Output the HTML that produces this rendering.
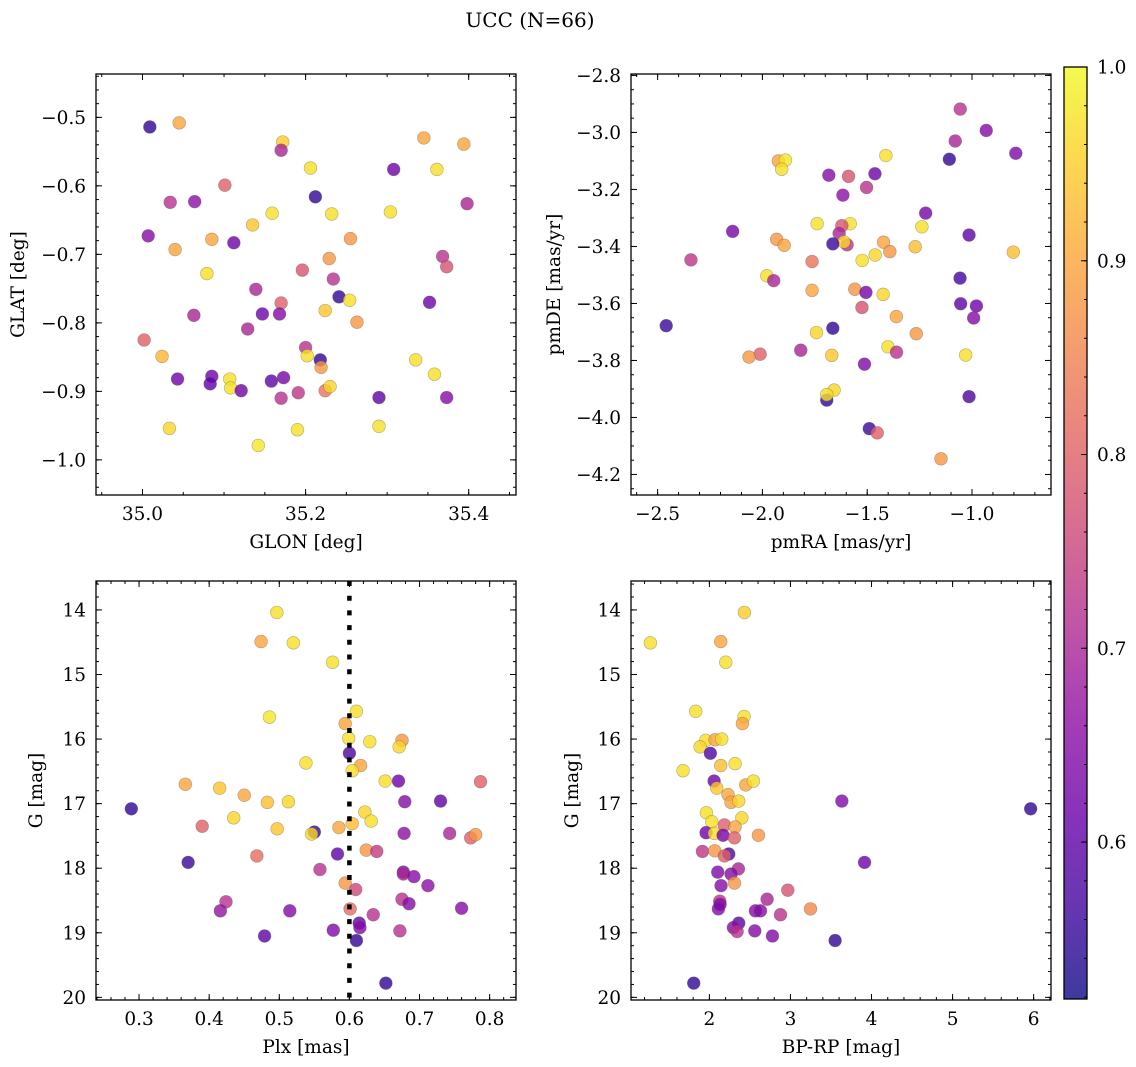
<!DOCTYPE html>
<html><head><meta charset="utf-8">
<style>
html,body{margin:0;padding:0;background:#fff;}
svg{display:block;font-family:"DejaVu Serif","Liberation Serif",serif;}
</style></head>
<body>
<svg id="fig" width="1136" height="1067" viewBox="0 0 1136 1067" xmlns="http://www.w3.org/2000/svg">
<defs>
<linearGradient id="cbgrad" x1="0" y1="1" x2="0" y2="0">
<stop offset="0" stop-color="#0d0887" stop-opacity="0.8"/>
<stop offset="0.1" stop-color="#41049d" stop-opacity="0.8"/>
<stop offset="0.2" stop-color="#6a00a8" stop-opacity="0.8"/>
<stop offset="0.3" stop-color="#8f0da4" stop-opacity="0.8"/>
<stop offset="0.4" stop-color="#b12a90" stop-opacity="0.8"/>
<stop offset="0.5" stop-color="#cc4778" stop-opacity="0.8"/>
<stop offset="0.6" stop-color="#e16462" stop-opacity="0.8"/>
<stop offset="0.7" stop-color="#f2844b" stop-opacity="0.8"/>
<stop offset="0.8" stop-color="#fca636" stop-opacity="0.8"/>
<stop offset="0.9" stop-color="#fcce25" stop-opacity="0.8"/>
<stop offset="1" stop-color="#f0f921" stop-opacity="0.8"/>
</linearGradient>
</defs>
<text x="530" y="27" font-size="20" text-anchor="middle">UCC (N=66)</text>
</svg>
<script>
// ---- data ----
const glon=[35.009,35.045,35.172,35.17,35.206,35.308,35.361,35.345,35.394,35.101,35.034,35.064,35.212,35.159,35.232,35.304,35.398,35.135,35.007,35.085,35.112,35.04,35.255,35.229,35.368,35.373,35.079,35.196,35.234,35.139,35.17,35.241,35.254,35.352,35.147,35.168,35.224,35.063,35.263,35.129,35.002,35.024,35.2,35.202,35.218,35.219,35.335,35.358,35.043,35.085,35.083,35.107,35.108,35.121,35.158,35.173,35.17,35.191,35.224,35.23,35.29,35.373,35.033,35.19,35.29,35.142];
const glat=[-0.514,-0.508,-0.536,-0.548,-0.574,-0.576,-0.576,-0.53,-0.539,-0.599,-0.624,-0.623,-0.616,-0.64,-0.641,-0.638,-0.626,-0.657,-0.673,-0.678,-0.683,-0.693,-0.677,-0.706,-0.703,-0.718,-0.728,-0.723,-0.736,-0.751,-0.771,-0.762,-0.767,-0.77,-0.787,-0.787,-0.782,-0.789,-0.799,-0.809,-0.825,-0.849,-0.836,-0.848,-0.854,-0.865,-0.854,-0.875,-0.882,-0.878,-0.889,-0.882,-0.895,-0.899,-0.885,-0.88,-0.91,-0.902,-0.899,-0.893,-0.909,-0.909,-0.954,-0.956,-0.951,-0.979];
const prob1=[0.55,0.9,0.95,0.7,0.97,0.62,0.97,0.9,0.9,0.8,0.72,0.66,0.55,0.97,0.97,0.97,0.7,0.94,0.65,0.9,0.62,0.9,0.88,0.88,0.72,0.78,0.97,0.78,0.72,0.7,0.8,0.55,0.97,0.62,0.62,0.65,0.94,0.7,0.88,0.7,0.8,0.92,0.72,0.97,0.55,0.88,0.97,0.97,0.62,0.62,0.6,0.97,0.97,0.62,0.6,0.63,0.72,0.73,0.83,0.96,0.6,0.65,0.96,0.97,0.97,0.98];

const pmra=[-1.056,-0.932,-1.08,-0.791,-1.108,-1.411,-1.924,-1.89,-1.908,-1.683,-1.589,-1.463,-1.503,-1.616,-1.221,-2.142,-1.739,-1.581,-1.621,-1.634,-1.596,-1.611,-1.664,-1.239,-1.271,-1.014,-1.932,-1.896,-1.422,-1.392,-1.462,-1.524,-0.803,-2.341,-1.763,-1.979,-1.946,-1.763,-1.559,-1.506,-1.424,-1.057,-1.054,-0.979,-0.992,-1.525,-1.361,-1.266,-2.459,-1.664,-1.742,-1.401,-1.36,-1.817,-2.011,-2.064,-1.669,-1.513,-1.03,-1.658,-1.693,-1.693,-1.014,-1.49,-1.452,-1.148];
const pmde=[-2.918,-2.993,-3.03,-3.073,-3.094,-3.081,-3.10,-3.097,-3.129,-3.15,-3.154,-3.145,-3.193,-3.22,-3.283,-3.347,-3.32,-3.32,-3.327,-3.354,-3.394,-3.384,-3.391,-3.331,-3.401,-3.36,-3.375,-3.396,-3.385,-3.418,-3.43,-3.449,-3.42,-3.447,-3.453,-3.503,-3.52,-3.554,-3.55,-3.561,-3.568,-3.511,-3.601,-3.609,-3.651,-3.614,-3.646,-3.706,-3.678,-3.687,-3.702,-3.752,-3.771,-3.764,-3.778,-3.788,-3.782,-3.813,-3.781,-3.904,-3.939,-3.92,-3.927,-4.039,-4.054,-4.145];
const prob2=[0.72,0.65,0.7,0.64,0.55,0.97,0.9,0.98,0.97,0.65,0.78,0.62,0.72,0.66,0.63,0.63,0.97,0.97,0.78,0.7,0.72,0.96,0.56,0.97,0.93,0.6,0.88,0.9,0.9,0.88,0.96,0.97,0.93,0.73,0.83,0.97,0.7,0.9,0.88,0.63,0.96,0.57,0.6,0.62,0.65,0.78,0.9,0.88,0.56,0.55,0.96,0.97,0.72,0.7,0.8,0.88,0.94,0.64,0.97,0.96,0.55,0.97,0.58,0.56,0.8,0.88];

const plx=[0.4965,0.474,0.520,0.576,0.486,0.610,0.594,0.599,0.629,0.675,0.671,0.600,0.538,0.616,0.604,0.651,0.670,0.787,0.366,0.415,0.450,0.483,0.513,0.679,0.730,0.289,0.435,0.622,0.631,0.390,0.497,0.550,0.546,0.585,0.604,0.678,0.743,0.773,0.780,0.583,0.624,0.639,0.468,0.370,0.558,0.677,0.677,0.692,0.712,0.594,0.609,0.424,0.416,0.515,0.675,0.685,0.760,0.601,0.634,0.614,0.615,0.577,0.672,0.479,0.610,0.652];
const gmag3=[14.04,14.49,14.51,14.81,15.66,15.57,15.76,15.99,16.04,16.02,16.12,16.22,16.37,16.41,16.49,16.65,16.65,16.66,16.70,16.76,16.87,16.98,16.97,16.97,16.96,17.08,17.22,17.13,17.27,17.35,17.39,17.44,17.47,17.37,17.31,17.46,17.46,17.53,17.48,17.78,17.72,17.74,17.81,17.91,18.02,18.06,18.09,18.13,18.27,18.23,18.33,18.52,18.66,18.66,18.48,18.55,18.62,18.63,18.72,18.85,18.92,18.96,18.97,19.05,19.12,19.78];
const prob3=[0.97,0.9,0.97,0.97,0.98,0.97,0.9,0.97,0.97,0.88,0.96,0.58,0.97,0.9,0.97,0.97,0.62,0.8,0.9,0.94,0.9,0.93,0.96,0.65,0.6,0.55,0.96,0.96,0.97,0.8,0.94,0.55,0.96,0.9,0.93,0.66,0.7,0.8,0.88,0.6,0.88,0.74,0.82,0.56,0.72,0.64,0.7,0.65,0.66,0.88,0.76,0.72,0.67,0.65,0.72,0.65,0.65,0.82,0.72,0.6,0.65,0.64,0.72,0.6,0.55,0.55];
const plxCut=[0.6];

const bprp=[1.272,2.432,2.14,2.202,1.831,2.428,2.407,1.955,2.07,2.152,1.885,2.012,1.675,2.14,2.317,2.058,2.091,2.449,2.543,2.23,2.267,2.362,3.634,5.963,1.963,2.029,2.4,2.185,2.317,1.959,2.062,2.169,2.309,2.605,1.914,2.066,2.239,2.185,2.103,2.358,2.267,2.309,2.144,2.967,3.914,2.128,2.132,2.111,2.712,2.568,2.63,2.877,3.247,2.362,2.296,2.342,2.56,2.778,3.551,1.807];
const gmag4=[14.51,14.04,14.49,14.81,15.57,15.65,15.76,16.02,16.01,16.0,16.12,16.22,16.49,16.41,16.38,16.65,16.76,16.71,16.65,16.86,16.98,16.96,16.96,17.08,17.14,17.28,17.22,17.33,17.36,17.45,17.46,17.49,17.53,17.49,17.74,17.73,17.78,17.81,18.06,18.01,18.09,18.23,18.27,18.34,17.91,18.51,18.56,18.63,18.48,18.66,18.66,18.72,18.63,18.85,18.92,18.98,18.97,19.05,19.12,19.78];
const prob4=[0.97,0.95,0.9,0.97,0.97,0.97,0.9,0.97,0.9,0.97,0.96,0.58,0.97,0.93,0.97,0.62,0.94,0.9,0.97,0.9,0.9,0.96,0.64,0.55,0.97,0.97,0.96,0.8,0.9,0.62,0.97,0.63,0.8,0.88,0.73,0.88,0.58,0.8,0.64,0.7,0.65,0.88,0.65,0.78,0.62,0.72,0.65,0.64,0.7,0.65,0.65,0.72,0.86,0.6,0.65,0.72,0.65,0.64,0.55,0.55];

const cbarTicks=[0.6,0.7,0.8,0.9,1.0];
const cbarMin=0.519, cbarMax=1.0;

// ---- helpers ----
const NS="http://www.w3.org/2000/svg";
const svg=document.getElementById('fig');
const FS=18.5;
function mk(tag,attrs,parent){const e=document.createElementNS(NS,tag);for(const k in attrs)e.setAttribute(k,attrs[k]);(parent||svg).appendChild(e);return e;}
const stops=[[13,8,135],[65,4,157],[106,0,168],[143,13,164],[177,42,144],[204,71,120],[225,100,98],[242,132,75],[252,166,54],[252,206,37],[240,249,33]];
function plasma(t){t=Math.max(0,Math.min(1,t));const f=t*10;const i=Math.min(9,Math.floor(f));const u=f-i;const a=stops[i],b=stops[i+1];
return 'rgb('+[0,1,2].map(k=>Math.round(a[k]+(b[k]-a[k])*u)).join(',')+')';}
function fmt(v,d){const s=Math.abs(v).toFixed(d);return (v<-1e-9?'\u2212':'')+s;}
function range(a,b,step){const lo=Math.min(a,b),hi=Math.max(a,b);const out=[];const n0=Math.ceil(lo/step-1e-6),n1=Math.floor(hi/step+1e-6);for(let n=n0;n<=n1;n++)out.push(+(n*step).toFixed(6));return out;}

function panel(cfg){
  const g=mk('g',{});
  
  
  const {L,R,T,B,xd,yd}=cfg;
  const sx=v=>L+(v-xd[0])/(xd[1]-xd[0])*(R-L);
  const sy=v=>B-(v-yd[0])/(yd[1]-yd[0])*(B-T);
  const pts=mk('g',{},g);
  
  
  const n=Math.min(cfg.xs.length,cfg.ys.length,cfg.ps.length);
  for(let i=0;i<n;i++){
    const c=mk('circle',{cx:sx(cfg.xs[i]).toFixed(2),cy:sy(cfg.ys[i]).toFixed(2),r:6.4,fill:plasma((cfg.ps[i]-cbarMin)/(cbarMax-cbarMin)),'fill-opacity':0.8,stroke:'#555','stroke-opacity':0.45,'stroke-width':0.6},pts);
    
    
  }
  if(cfg.vline){
    const l=mk('line',{x1:sx(cfg.vline[0]),x2:sx(cfg.vline[0]),y1:T,y2:B,stroke:'#000','stroke-width':4.5,'stroke-dasharray':'5 9.7'},g);
    
    
  }
  const tg=mk('g',{stroke:'#000','stroke-width':1},g);
  range(xd[0],xd[1],cfg.xminor).forEach(v=>{const x=sx(v);mk('line',{x1:x,x2:x,y1:B,y2:B-3},tg);mk('line',{x1:x,x2:x,y1:T,y2:T+3},tg);});
  range(yd[0],yd[1],cfg.yminor).forEach(v=>{const y=sy(v);mk('line',{x1:L,x2:L+3,y1:y,y2:y},tg);mk('line',{x1:R,x2:R-3,y1:y,y2:y},tg);});
  range(xd[0],xd[1],cfg.xmajor).forEach(v=>{const x=sx(v);mk('line',{x1:x,x2:x,y1:B,y2:B-6},tg);mk('line',{x1:x,x2:x,y1:T,y2:T+6},tg);
    const t=mk('text',{x:x,y:B+25,'font-size':FS,'text-anchor':'middle'},g);t.textContent=fmt(v,cfg.xdec);
    
    });
  range(yd[0],yd[1],cfg.ymajor).forEach(v=>{const y=sy(v);mk('line',{x1:L,x2:L+6,y1:y,y2:y},tg);mk('line',{x1:R,x2:R-6,y1:y,y2:y},tg);
    const t=mk('text',{x:L-10,y:y+6.5,'font-size':FS,'text-anchor':'end'},g);t.textContent=fmt(v,cfg.ydec);
    
    });
  const fr=mk('rect',{x:L,y:T,width:R-L,height:B-T,fill:'none',stroke:'#000','stroke-width':1.3},g);
  
  
  const xt=mk('text',{x:(L+R)/2,y:B+53,'font-size':FS,'text-anchor':'middle'},g);xt.textContent=cfg.xlabel;
  
  
  const cy=(T+B)/2;
  const yt=mk('text',{x:cfg.ylx,y:cy,'font-size':FS,'text-anchor':'middle',transform:'rotate(-90 '+cfg.ylx+' '+cy+')'},g);yt.textContent=cfg.ylabel;
  
  
}

panel({name:'glon-glat-panel',L:96,R:516,T:74,B:495,xd:[34.943,35.458],yd:[-1.0513,-0.4367],xs:glon,ys:glat,ps:prob1,
  xmajor:0.2,xminor:0.05,ymajor:0.1,yminor:0.02,xdec:1,ydec:1,xlabel:'GLON [deg]',ylabel:'GLAT [deg]',ylx:24});
panel({name:'proper-motion-panel',L:631,R:1051,T:74,B:495,xd:[-2.627,-0.623],yd:[-4.272,-2.795],xs:pmra,ys:pmde,ps:prob2,
  xmajor:0.5,xminor:0.1,ymajor:0.2,yminor:0.05,xdec:1,ydec:1,xlabel:'pmRA [mas/yr]',ylabel:'pmDE [mas/yr]',ylx:560});
panel({name:'plx-g-panel',L:96,R:516,T:581,B:1000,xd:[0.2386,0.8376],yd:[20.041,13.552],xs:plx,ys:gmag3,ps:prob3,vline:plxCut,
  xmajor:0.1,xminor:0.02,ymajor:1,yminor:0.2,xdec:1,ydec:0,xlabel:'Plx [mas]',ylabel:'G [mag]',ylx:42});
panel({name:'cmd-panel',L:631,R:1051,T:581,B:1000,xd:[1.033,6.214],yd:[20.041,13.552],xs:bprp,ys:gmag4,ps:prob4,
  xmajor:1,xminor:0.2,ymajor:1,yminor:0.2,xdec:0,ydec:0,xlabel:'BP-RP [mag]',ylabel:'G [mag]',ylx:578});

(function(){
  const L=1064,R=1087,T=67,B=999;
  const g=mk('g',{});
  
  
  const sy=v=>B-(v-cbarMin)/(cbarMax-cbarMin)*(B-T);
  mk('rect',{x:L,y:T,width:R-L,height:B-T,fill:'url(#cbgrad)'},g);
  range(cbarMin,cbarMax,0.02).forEach(v=>{const y=sy(v);mk('line',{x1:R,x2:R-3,y1:y,y2:y,stroke:'#000','stroke-width':1},g);});
  cbarTicks.forEach(v=>{const y=sy(v);mk('line',{x1:R,x2:R-6,y1:y,y2:y,stroke:'#000','stroke-width':1},g);
    const t=mk('text',{x:R+10,y:y+6.5,'font-size':FS},g);t.textContent=v.toFixed(1);
    
    });
  mk('rect',{x:L,y:T,width:R-L,height:B-T,fill:'none',stroke:'#000','stroke-width':1.3},g);
})();
</script>
</body></html>
